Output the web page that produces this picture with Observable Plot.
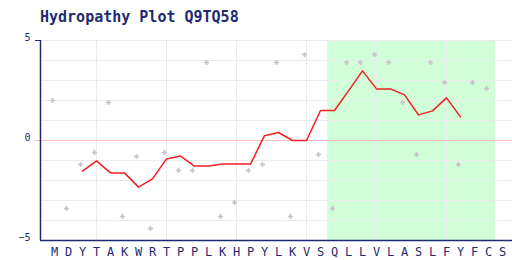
<!DOCTYPE html>
<html><head><meta charset="utf-8">
<script src="https://cdn.jsdelivr.net/npm/d3@7"></script>
<script src="https://cdn.jsdelivr.net/npm/@observablehq/plot@0.6"></script>
<style>
body{margin:0;background:#fff;}
#wrap{position:relative;width:512px;height:260px;}
#title{position:absolute;left:40px;top:8px;font:bold 15px "DejaVu Sans Mono",monospace;color:#1f2b6f;white-space:nowrap;}
#chart{position:absolute;left:0;top:0;}
</style></head><body>
<div id="wrap"><div id="chart"></div><div id="title">Hydropathy Plot Q9TQ58</div></div>
<script>
const residues = ["M","D","Y","T","A","K","W","R","T","P","P","L","K","H","P","Y","L","K","V","S","Q","L","L","V","L","A","S","L","F","Y","F","C","S"];
const hydropathy = [1.9,-3.5,-1.3,-0.7,1.8,-3.9,-0.9,-4.5,-0.7,-1.6,-1.6,3.8,-3.9,-3.2,-1.6,-1.3,3.8,-3.9,4.2,-0.8,-3.5,3.8,3.8,4.2,3.8,1.8,-0.8,3.8,2.8,-1.3,2.8,2.5];
const smoothStart = 3;
const smoothed = [-1.53,-1.02,-1.62,-1.62,-2.33,-1.92,-0.92,-0.78,-1.28,-1.28,-1.18,-1.18,-1.18,0.24,0.4,0.0,0.0,1.5,1.5,2.48,3.48,2.58,2.58,2.28,1.28,1.48,2.13,1.18];
const region = [{start: 21, end: 32}];
const gridX = [4,9,14,19,24,29];
const gridY = [-4,-3,-2,-1,1,2,3,4,5];
const yTicks = [-5,0,5];

const navy = "#1f2b6f";
const chart = Plot.plot({
  width: 512, height: 260,
  marginLeft: 40, marginRight: 0, marginTop: 40, marginBottom: 20,
  style: {fontFamily: "'DejaVu Sans Mono', monospace", color: navy, background: "#fff"},
  x: {domain: [0, 472/14]},
  y: {domain: [-5, 5]},
  marks: [
    Plot.rect(region, {x1: d => d.start - 0.5, x2: d => d.end + 0.5, fill: "#d0ffd8"}),
    Plot.ruleY(gridY, {stroke: "#ebebeb"}),
    Plot.ruleX(gridX, {stroke: "#ebebeb"}),
    Plot.ruleY([0], {stroke: "#ffc0c0", insetLeft: -5}),
    Plot.dot(hydropathy, {x: (d, i) => i + 1, y: d => d, symbol: "cross", fill: "#c4c4c4", r: 2.2, dx: -2, dy: -2}),
    Plot.line(smoothed, {x: (d, i) => i + smoothStart, y: d => d, stroke: "#f02020", strokeWidth: 1.5}),
    Plot.ruleX([0], {stroke: navy, strokeWidth: 1.5}),
    Plot.ruleY([-5], {stroke: navy, strokeWidth: 1.5}),
    Plot.axisY({ticks: [5], tickSize: 5, tickFormat: () => "", stroke: navy}),
    Plot.axisY({ticks: yTicks, tickSize: 0, tickPadding: 10, fontSize: 10, dy: -3}),
    Plot.axisX({ticks: d3.range(1, residues.length + 1), tickFormat: i => residues[i - 1], tickSize: 0, tickPadding: 7, fontSize: 12})
  ]
});
document.getElementById("chart").append(chart);
</script>
</body></html>
